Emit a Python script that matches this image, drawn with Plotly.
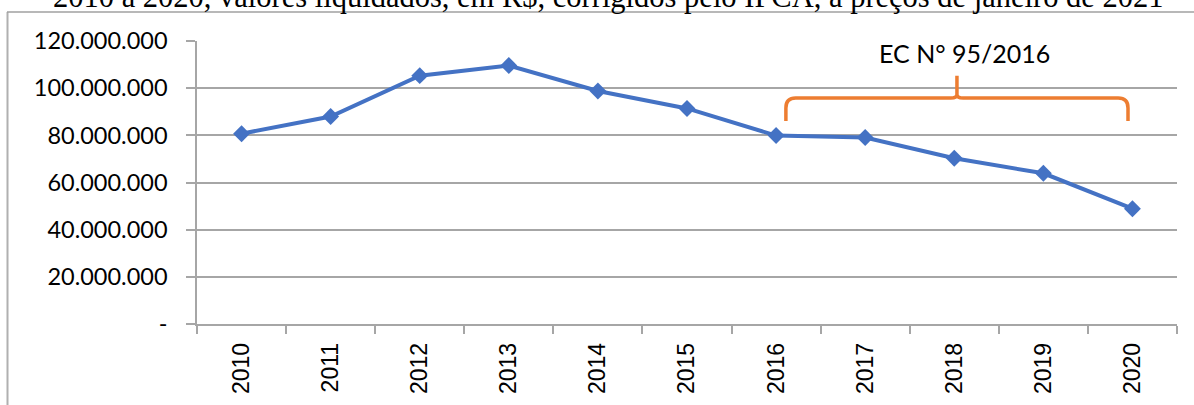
import plotly.graph_objects as go

# Valores liquidados, corrigidos pelo IPCA (R$)
anos = ["2010", "2011", "2012", "2013", "2014", "2015", "2016", "2017", "2018", "2019", "2020"]
valores = [80_700_000, 88_000_000, 105_300_000, 109_600_000, 98_800_000, 91_400_000,
           79_900_000, 79_100_000, 70_300_000, 63_900_000, 48_900_000]

y_ticks = [0, 20_000_000, 40_000_000, 60_000_000, 80_000_000, 100_000_000, 120_000_000]
y_labels = ["-", "20.000.000", "40.000.000", "60.000.000", "80.000.000", "100.000.000", "120.000.000"]

titulo = "2010 a 2020, valores liquidados, em R$, corrigidos pelo IPCA, a preços de janeiro de 2021"
nota_ec = "EC N° 95/2016"

W, H = 1194, 405
L, R, T, B = 197, 17, 41, 81
plot_w = W - L - R
plot_h = H - T - B


def px_x(p):
    return (p - L) / plot_w


def px_y(p):
    return (H - B - p) / plot_h


grid = "#a6a6a6"
blue = "#4472c4"
orange = "#ed7d31"

fig = go.Figure()
fig.add_trace(go.Scatter(
    x=anos, y=valores, mode="lines+markers",
    line=dict(color=blue, width=4),
    marker=dict(symbol="diamond", size=13, color=blue),
    showlegend=False, hoverinfo="x+y",
))

# Brace spanning the EC 95/2016 period (x in category index, y in data units)
xl, xm, xr = 6.11, 8.03, 9.95
yb, yh, yp = 86_100_000, 95_800_000, 105_300_000
rx, ry = 0.11, 4_200_000
brace = (
    f"M {xl},{yb} L {xl},{yh - ry} Q {xl},{yh} {xl + rx},{yh} "
    f"L {xm - 0.07},{yh} Q {xm},{yh} {xm},{yh + 1_500_000} L {xm},{yp} "
    f"L {xm},{yh + 1_500_000} Q {xm},{yh} {xm + 0.07},{yh} "
    f"L {xr - rx},{yh} Q {xr},{yh} {xr},{yh - ry} L {xr},{yb}"
)

shapes = [
    dict(type="path", path=brace, xref="x", yref="y",
         line=dict(color=orange, width=3.5), layer="above"),
    # outer frame (left and top edges)
    dict(type="line", xref="paper", yref="paper",
         x0=px_x(7.5), x1=px_x(7.5), y0=px_y(12), y1=px_y(410),
         line=dict(color="#b0b0b0", width=2)),
    dict(type="line", xref="paper", yref="paper",
         x0=px_x(7), x1=px_x(1200), y0=px_y(12), y1=px_y(12),
         line=dict(color="#a0a0a0", width=1.5)),
]

annotations = [
    dict(text=titulo, xref="paper", yref="paper", x=px_x(30), y=px_y(8),
         xanchor="left", yanchor="bottom", showarrow=False,
         xshift=21, yshift=-8.5,
         font=dict(family="Liberation Serif", size=30.5, color="#000000")),
    dict(text=nota_ec, xref="x", yref="paper", x=8.12, y=px_y(53),
         xanchor="center", yanchor="middle", showarrow=False,
         font=dict(family="Lato", size=25, color="#000000")),
]

fig.update_layout(
    width=W, height=H,
    margin=dict(l=L, r=R, t=T, b=B),
    paper_bgcolor="white", plot_bgcolor="white",
    shapes=shapes, annotations=annotations,
    xaxis=dict(
        type="category", range=[-0.5, 10.5], tickson="boundaries",
        showgrid=False, showline=True, linecolor=grid, linewidth=1.5,
        ticks="outside", ticklen=8, tickcolor=grid, tickwidth=1.5,
        tickangle=-90, ticklabelstandoff=8,
        tickfont=dict(family="Liberation Sans", size=23, color="#000000"),
    ),
    yaxis=dict(
        range=[0, 120_000_000], tickvals=y_ticks, ticktext=y_labels,
        showgrid=True, gridcolor=grid, gridwidth=1.5,
        showline=True, linecolor=grid, linewidth=1.5,
        ticks="outside", ticklen=9, tickcolor=grid, tickwidth=1.5,
        ticklabelstandoff=14, zeroline=False,
        tickfont=dict(family="Lato", size=23.5, color="#000000"),
    ),
)

fig.write_html("out.html")
